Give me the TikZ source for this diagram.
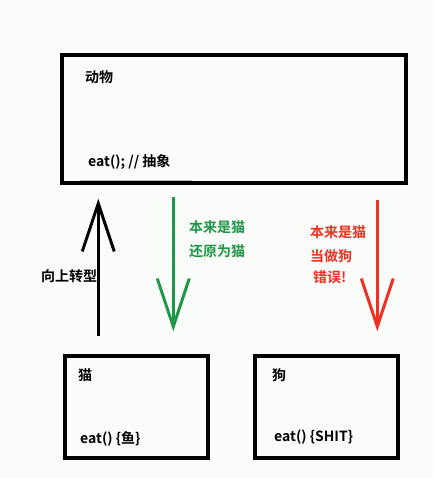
\documentclass[tikz,border=0pt]{standalone}
\usepackage{fontspec}
\setmainfont{Noto Sans CJK SC}[BoldFont={Noto Sans CJK SC Bold}]
\usetikzlibrary{arrows.meta}
\definecolor{castgreen}{RGB}{30,150,70}
\definecolor{castred}{RGB}{235,50,35}
\definecolor{paper}{RGB}{250,252,249}

\begin{document}
\begin{tikzpicture}[x=1pt, y=-1pt]
	\tikzstyle{every node}=[inner sep=0pt, font=\fontsize{14}{17}\selectfont\bfseries]
	\tikzstyle{classbox}=[draw, rectangle, line width=3.5pt]
	\tikzstyle{cast}=[line width=3pt, -{Straight Barb[length=48pt, width=32pt, line width=3pt]}]
	\useasboundingbox (0,0) rectangle (433,478);
	\fill[paper] (0,0) rectangle (433,478);
	% classes
	\node[classbox, minimum width=344pt, minimum height=128pt] (Animal) at (234,119) {};
	\node[classbox, minimum width=143pt, minimum height=102pt] (Cat) at (136.5,407) {};
	\node[classbox, minimum width=143pt, minimum height=102pt] (Dog) at (326.5,407) {};
	\node[anchor=west] (AnimalName) at (85,77) {动物};
	\node[anchor=west] (AnimalEat) at (88,162) {eat(); // 抽象};
	\draw[gray!55, line width=1.5pt] (80,180.5) -- (192,180.5);
	\node[anchor=west] (CatName) at (78,375) {猫};
	\node[anchor=west] (CatEat) at (80,439) {eat() \{鱼\}};
	\node[anchor=west] (DogName) at (272,375) {狗};
	\node[anchor=west] (DogEat) at (274,437) {eat() \{SHIT\}};
	% casts
	\draw[cast] ([xshift=35pt, yshift=18pt]Cat.north west) -- ([xshift=38pt, yshift=-14pt]Animal.south west);
	\node[anchor=west] (Upcast) at (41,276) {向上转型};
	\draw[cast, castgreen] ([xshift=113pt, yshift=-12pt]Animal.south west) -- ([xshift=110pt, yshift=23pt]Cat.north west);
	\node[anchor=west, castgreen] (DownOk1) at (189,227) {本来是猫};
	\node[anchor=west, castgreen] (DownOk2) at (189,251) {还原为猫};
	\draw[cast, castred] ([xshift=317pt, yshift=-15pt]Animal.south west) -- ([xshift=124pt, yshift=23pt]Dog.north west);
	\node[anchor=west, castred] (DownBad1) at (310,232) {本来是猫};
	\node[anchor=west, castred] (DownBad2) at (310,256) {当做狗};
	\node[anchor=west, castred] (DownBad3) at (313,277) {错误!};
\end{tikzpicture}
\end{document}
